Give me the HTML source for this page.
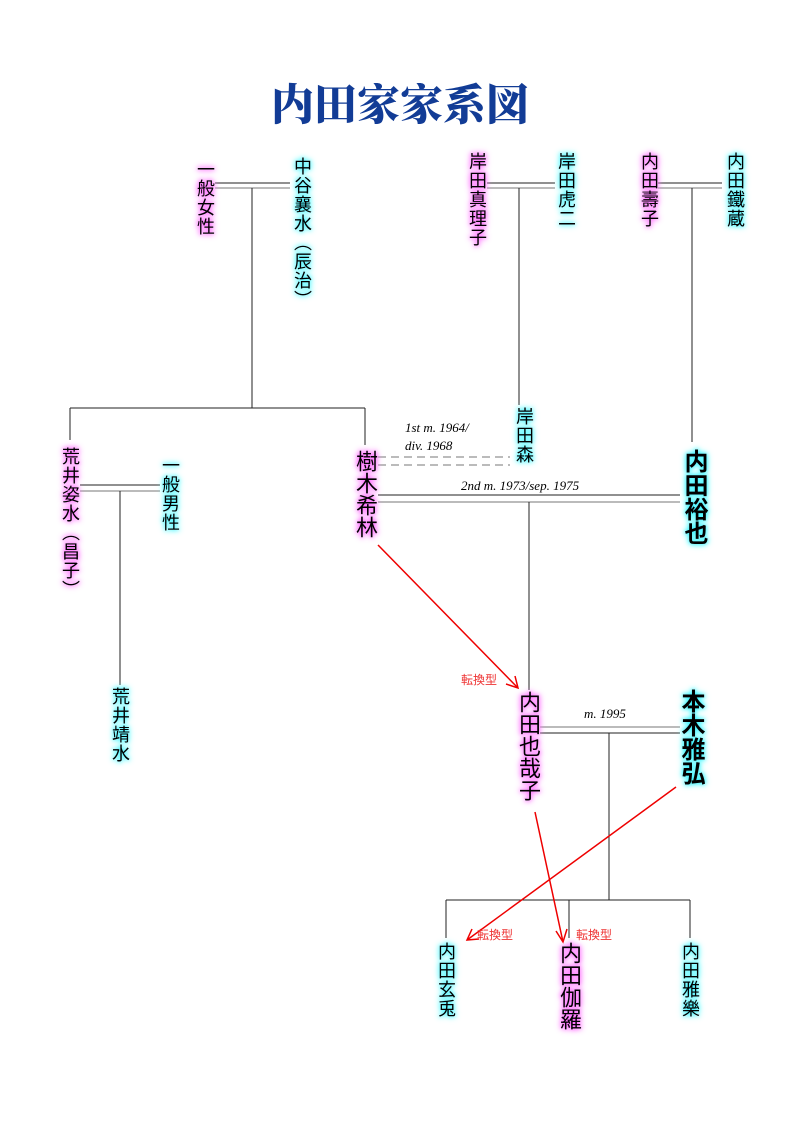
<!DOCTYPE html>
<html><head><meta charset="utf-8"><style>
body{margin:0;background:#fff;}
#c{position:relative;width:800px;height:1132px;overflow:hidden;}
.n{position:absolute;writing-mode:vertical-rl;font-family:"Liberation Sans","Noto Sans CJK JP",sans-serif;color:#000;line-height:1;white-space:nowrap;}
.p{text-shadow:0 0 4px #f6f,0 0 6px #f6f,0 0 8px #f9f;}
.b{text-shadow:0 0 4px #3ef,0 0 6px #5ff,0 0 8px #9ff;}
.s{font-size:18px;letter-spacing:1px;}
.m{font-size:22px;letter-spacing:0px;}
.l{font-size:24px;letter-spacing:0px;font-weight:bold;}
h1{position:absolute;left:0;width:800px;top:72px;margin:0;text-align:center;font-family:"Noto Serif CJK SC","Liberation Serif",serif;font-size:43px;font-weight:900;color:#123c96;letter-spacing:0px;}
svg{position:absolute;left:0;top:0;}
.i{font-family:"Liberation Serif",serif;font-style:italic;font-size:13px;}
.r{font-family:"Liberation Sans","Noto Sans CJK JP",sans-serif;font-size:12px;fill:#e33;}
</style></head><body><div id="c">
<h1>内田家家系図</h1>
<svg width="800" height="1132">
<g stroke="#222" stroke-width="1" fill="none">
<line x1="215" y1="183" x2="290" y2="183"/><line x1="215" y1="188" x2="290" y2="188" stroke="#777"/>
<line x1="252" y1="188" x2="252" y2="408"/><line x1="70" y1="408" x2="365" y2="408"/>
<line x1="70" y1="408" x2="70" y2="440"/><line x1="365" y1="408" x2="365" y2="445"/>
<line x1="487" y1="183" x2="555" y2="183"/><line x1="487" y1="188" x2="555" y2="188" stroke="#777"/>
<line x1="519" y1="188" x2="519" y2="405"/>
<line x1="658" y1="183" x2="722" y2="183"/><line x1="658" y1="188" x2="722" y2="188" stroke="#777"/>
<line x1="692" y1="188" x2="692" y2="442"/>
<line x1="80" y1="485" x2="160" y2="485"/><line x1="80" y1="491" x2="160" y2="491" stroke="#777"/>
<line x1="120" y1="491" x2="120" y2="685"/>
<line x1="378" y1="457" x2="510" y2="457" stroke="#777" stroke-dasharray="8,5"/>
<line x1="378" y1="465" x2="510" y2="465" stroke="#777" stroke-dasharray="8,5"/>
<line x1="378" y1="495" x2="680" y2="495"/><line x1="378" y1="502" x2="680" y2="502" stroke="#777"/>
<line x1="529" y1="502" x2="529" y2="690"/>
<line x1="540" y1="727" x2="680" y2="727" stroke="#777"/><line x1="540" y1="733" x2="680" y2="733"/>
<line x1="609" y1="733" x2="609" y2="900"/><line x1="446" y1="900" x2="690" y2="900"/>
<line x1="446" y1="900" x2="446" y2="938"/><line x1="569" y1="900" x2="569" y2="938"/><line x1="690" y1="900" x2="690" y2="938"/>
</g>
<g stroke="#e00" stroke-width="1.5" fill="none">
<line x1="378" y1="545" x2="518" y2="688"/><polyline points="506,684 518,688 515,676"/>
<line x1="535" y1="812" x2="563" y2="942"/><polyline points="556,931 563,942 567,929"/>
<line x1="676" y1="787" x2="467" y2="940"/><polyline points="472,929 467,940 479,939"/>
</g>
<text class="i" x="405" y="432">1st m. 1964/</text>
<text class="i" x="405" y="450">div. 1968</text>
<text class="i" x="461" y="490">2nd m. 1973/sep. 1975</text>
<text class="i" x="584" y="718">m. 1995</text>
<text class="r" x="461" y="684">転換型</text>
<text class="r" x="477" y="939">転換型</text>
<text class="r" x="576" y="939">転換型</text>
</svg>
<div class="n s p" style="left:196px;top:160px">一般女性</div>
<div class="n s b" style="left:293px;top:157px">中谷襄水（辰治）</div>
<div class="n s p" style="left:468px;top:152px">岸田真理子</div>
<div class="n s b" style="left:557px;top:152px">岸田虎二</div>
<div class="n s p" style="left:640px;top:152px">内田壽子</div>
<div class="n s b" style="left:726px;top:152px">内田鐵蔵</div>
<div class="n s p" style="left:61px;top:447px">荒井姿水（昌子）</div>
<div class="n s b" style="left:161px;top:456px">一般男性</div>
<div class="n m p" style="left:354px;top:450px">樹木希林</div>
<div class="n s b" style="left:515px;top:407px">岸田森</div>
<div class="n l b" style="left:681px;top:449px">内田裕也</div>
<div class="n s b" style="left:111px;top:687px">荒井靖水</div>
<div class="n m p" style="left:517px;top:691px">内田也哉子</div>
<div class="n l b" style="left:678px;top:689px">本木雅弘</div>
<div class="n s b" style="left:437px;top:942px">内田玄兎</div>
<div class="n m p" style="left:558px;top:942px">内田伽羅</div>
<div class="n s b" style="left:681px;top:942px">内田雅樂</div>
</div></body></html>
